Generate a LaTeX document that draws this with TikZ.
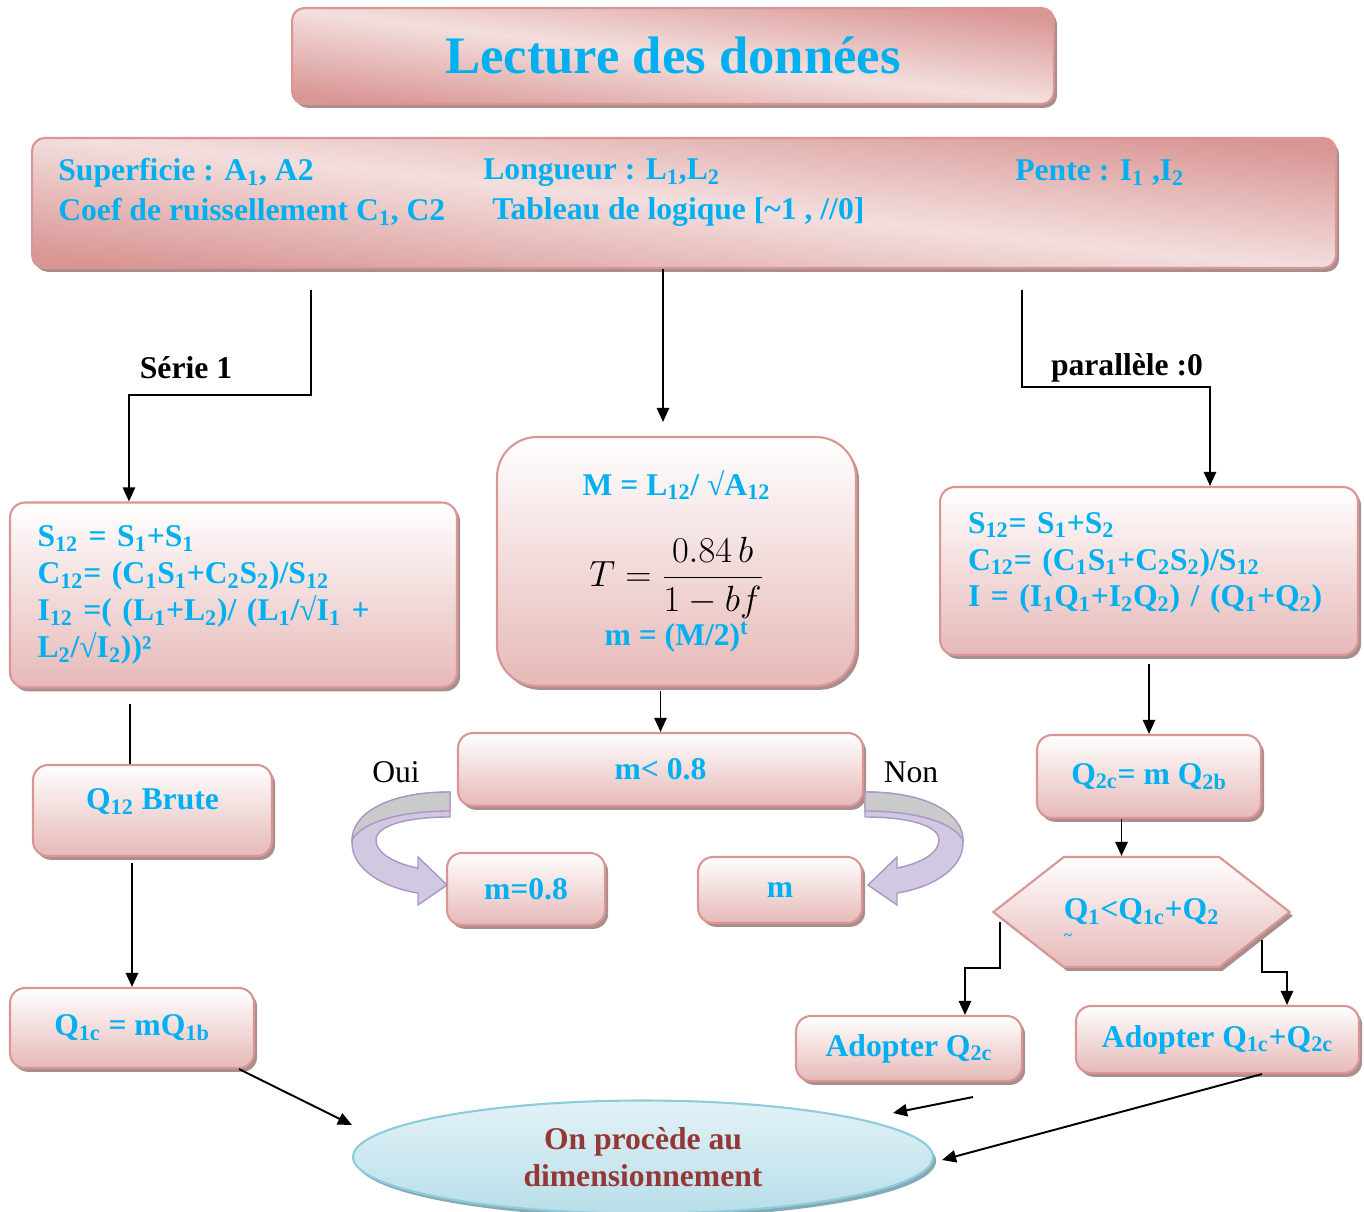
\documentclass[tikz,border=0pt]{standalone}
\usepackage{fontspec}
\setmainfont{Liberation Serif}
\usepackage{amsmath}
\usetikzlibrary{shapes.geometric,shapes.symbols,shadows,arrows.meta}

\definecolor{txtblue}{HTML}{00B0F0}
\definecolor{rimred}{HTML}{D99694}
\definecolor{pinklight}{HTML}{F3DFDE}
\definecolor{pinkdark}{HTML}{D99694}
\definecolor{pinkbottom}{HTML}{E6B9B8}
\definecolor{shadowgray}{HTML}{A98E8D}
\definecolor{skytop}{HTML}{E2F2F7}
\definecolor{skybottom}{HTML}{B9DEE9}
\definecolor{skyedge}{HTML}{8ECBDB}
\definecolor{skyshadow}{HTML}{86AAB5}
\definecolor{wine}{HTML}{953735}
\definecolor{lilac}{HTML}{D2C8E2}
\definecolor{lilacedge}{HTML}{A897C4}
\definecolor{arrowgray}{HTML}{CACACA}

\begin{document}
\begin{tikzpicture}[x=0.02cm, y=-0.02cm,
  box/.style={rectangle, rounded corners=0.3cm, draw=rimred, line width=1.2pt,
    top color=white, bottom color=pinkbottom,
    drop shadow={shadow xshift=1.8pt, shadow yshift=-2.2pt, fill=shadowgray, opacity=1},
    text=txtblue, font=\fontsize{18}{21}\selectfont\bfseries},
  headbox/.style={box, rounded corners=0.25cm, top color=pinkdark, bottom color=pinkdark,
    middle color=pinklight, shading angle=-7},
  info/.style={text=txtblue, font=\fontsize{18}{21}\selectfont\bfseries, inner sep=0pt, anchor=west},
  lbl/.style={text=black, font=\fontsize{18}{21}\selectfont},
  arr/.style={-{Triangle[length=8pt,width=7pt]}, line width=1.1pt},
  link/.style={line width=1.1pt},
  swoop/.pic={
    \path[fill=lilac, draw=lilacedge, line width=0.8pt] (450,792) .. controls (385,792) and (352,815) .. (352,843)
      .. controls (352,870) and (385,888) .. (418,893) -- (418,905) -- (447,885) -- (418,857) -- (418,868)
      .. controls (392,863) and (376,852) .. (376,840) .. controls (376,826) and (405,817) .. (450,817) -- cycle;
    \path[fill=arrowgray, draw=lilacedge, line width=0.8pt] (450,792) .. controls (385,792) and (352,815) .. (352,840)
      .. controls (362,822) and (400,811) .. (450,811) -- cycle;
  }]
\useasboundingbox (0,0) rectangle (1364,1212);

% title and data
\node[headbox, minimum width=15.24cm, minimum height=1.92cm, font=\fontsize{30}{36}\selectfont\bfseries] (title) at (673,56) {Lecture des données};
\node[headbox, shading angle=-6, minimum width=26.08cm, minimum height=2.6cm] (data) at (684,203) {};
\node[info] (sup) at (58,173) {Superficie : A\textsubscript{1}, A2};
\node[info] (lon) at (483,173) {Longueur : L\textsubscript{1},L\textsubscript{2}};
\node[info] (pen) at (1015,173) {Pente : I\textsubscript{1} ,I\textsubscript{2}};
\node[info] (coef) at (58,212) {Coef de ruissellement C\textsubscript{1}, C2};
\node[info] (tab) at (492,212) {Tableau de logique [\textasciitilde1 , //0]};

% three branches
\node[box, minimum width=8.94cm, minimum height=3.7cm, text width=7.84cm, align=left, inner sep=0pt] (serie) at (233.5,595)
  {S\textsubscript{12} = S\textsubscript{1}+S\textsubscript{1}\\
   C\textsubscript{12}= (C\textsubscript{1}S\textsubscript{1}+C\textsubscript{2}S\textsubscript{2})/S\textsubscript{12}\\
   I\textsubscript{12} =( (L\textsubscript{1}+L\textsubscript{2})/ (L\textsubscript{1}/√I\textsubscript{1} +\\
   L\textsubscript{2}/√I\textsubscript{2}))²};
\node[box, rounded corners=0.8cm, minimum width=7.18cm, minimum height=4.98cm, align=center] (mbox) at (676.5,561.5)
  {M = L\textsubscript{12}/ √A\textsubscript{12}\\[20pt]
   {\color{black}\mdseries\fontsize{22}{24}\selectfont $T=\dfrac{0.84\,b}{1-bf}$}\\[1pt]
   m = (M/2)\textsuperscript{t}};
\node[box, minimum width=8.36cm, minimum height=3.36cm, text width=7.24cm, align=left, inner sep=0pt] (para) at (1149,571)
  {S\textsubscript{12}= S\textsubscript{1}+S\textsubscript{2}\\
   C\textsubscript{12}= (C\textsubscript{1}S\textsubscript{1}+C\textsubscript{2}S\textsubscript{2})/S\textsubscript{12}\\
   I = (I\textsubscript{1}Q\textsubscript{1}+I\textsubscript{2}Q\textsubscript{2}) / (Q\textsubscript{1}+Q\textsubscript{2})\rule[-13pt]{0pt}{0pt}};

\node[lbl, font=\fontsize{18}{21}\selectfont\bfseries] (s1) at (186,368) {Série 1};
\node[lbl, font=\fontsize{18}{21}\selectfont\bfseries] (p0) at (1127,368) {parallèle :0};

% middle test
\node[box, minimum width=8.1cm, minimum height=1.46cm] (test) at (660.5,769.5) {m< 0.8};
\node[box, minimum width=3.16cm, minimum height=1.44cm] (mfix) at (526,889) {m=0.8};
\node[box, minimum width=3.28cm, minimum height=1.32cm] (mkeep) at (780,890) {m};
\node[lbl] (oui) at (396,772) {Oui};
\node[lbl] (non) at (911,772) {Non};
\pic at (0,0) {swoop};
\pic[xscale=-1] at (1315,0) {swoop};

% left column
\node[box, minimum width=4.78cm, minimum height=1.82cm] (brute) at (152.5,810.5) {Q\textsubscript{12} Brute\rule[-13pt]{0pt}{0pt}};
\node[box, minimum width=4.88cm, minimum height=1.6cm] (q1c) at (132,1028) {Q\textsubscript{1c} = mQ\textsubscript{1b}};

% right column
\node[box, minimum width=4.48cm, minimum height=1.66cm] (q2c) at (1149,776.5) {Q\textsubscript{2c}= m Q\textsubscript{2b}};
\node[box, signal, signal to=west and east, signal pointer angle=76, rounded corners=0pt, inner xsep=0pt, minimum height=2.2cm] (hex) at (1141.5,912) {Q\textsubscript{1}<Q\textsubscript{1c}+Q\textsubscript{2}};
\node[text=txtblue, font=\small\bfseries] (tilde) at (1068,937) {\textasciitilde};
\node[box, minimum width=4.52cm, minimum height=1.3cm] (adopt2) at (909,1048.5) {Adopter Q\textsubscript{2c}};
\node[box, minimum width=5.66cm, minimum height=1.34cm] (adopt12) at (1217.5,1039.5) {Adopter Q\textsubscript{1c}+Q\textsubscript{2c}};

% end
\node[ellipse, draw=skyedge, line width=1.2pt, top color=skytop, bottom color=skybottom,
  drop shadow={shadow xshift=1.8pt, shadow yshift=-2.2pt, fill=skyshadow, opacity=1},
  minimum width=11.6cm, minimum height=2.26cm, align=center, text=wine,
  font=\fontsize{18}{21}\selectfont\bfseries] (ell) at (643,1157) {On procède au\\dimensionnement};

% connectors
\coordinate (sl) at (311,290);
\coordinate (mt) at (663,422);
\coordinate (pr) at (1022,290);
\draw[arr] (sl) -- (311,395) -| ([xshift=2.4cm]serie.north west);
\draw[arr] (data.south -| mt) -- (mt);
\draw[arr] (pr) -- (1022,387) -| ([xshift=1.22cm]para.north);
\draw[arr] ([yshift=-0.08cm]mbox.south -| test.north) -- (test.north);

\coordinate (bt) at ([xshift=-0.45cm]brute.north);
\draw[link] ([yshift=-0.3cm]serie.south -| bt) -- (bt);
\draw[arr] ([yshift=-0.12cm]brute.south -| q1c.north) -- (q1c.north);
\coordinate (e1) at (352,1125);
\draw[arr] ([xshift=-0.32cm]q1c.south east) -- (e1);

\draw[arr] ([yshift=-0.16cm]para.south -| q2c.north) -- (q2c.north);
\coordinate (ht) at ([xshift=-0.4cm]hex.north);
\draw[arr] (q2c.south -| ht) -- (ht);
\coordinate (hl) at (1000,922);
\coordinate (hr) at (1262,940);
\draw[arr] (hl) -- (1000,968) -| ([xshift=1.12cm]adopt2.north);
\draw[arr] (hr) -- (1262,972) -| ([xshift=1.39cm]adopt12.north);

\coordinate (a2) at (973,1097);
\coordinate (e2) at (893,1113);
\coordinate (e3) at (942,1160);
\draw[arr] (a2) -- (e2);
\draw[arr] ([xshift=0.89cm]adopt12.south) -- (e3);
\end{tikzpicture}
\end{document}
